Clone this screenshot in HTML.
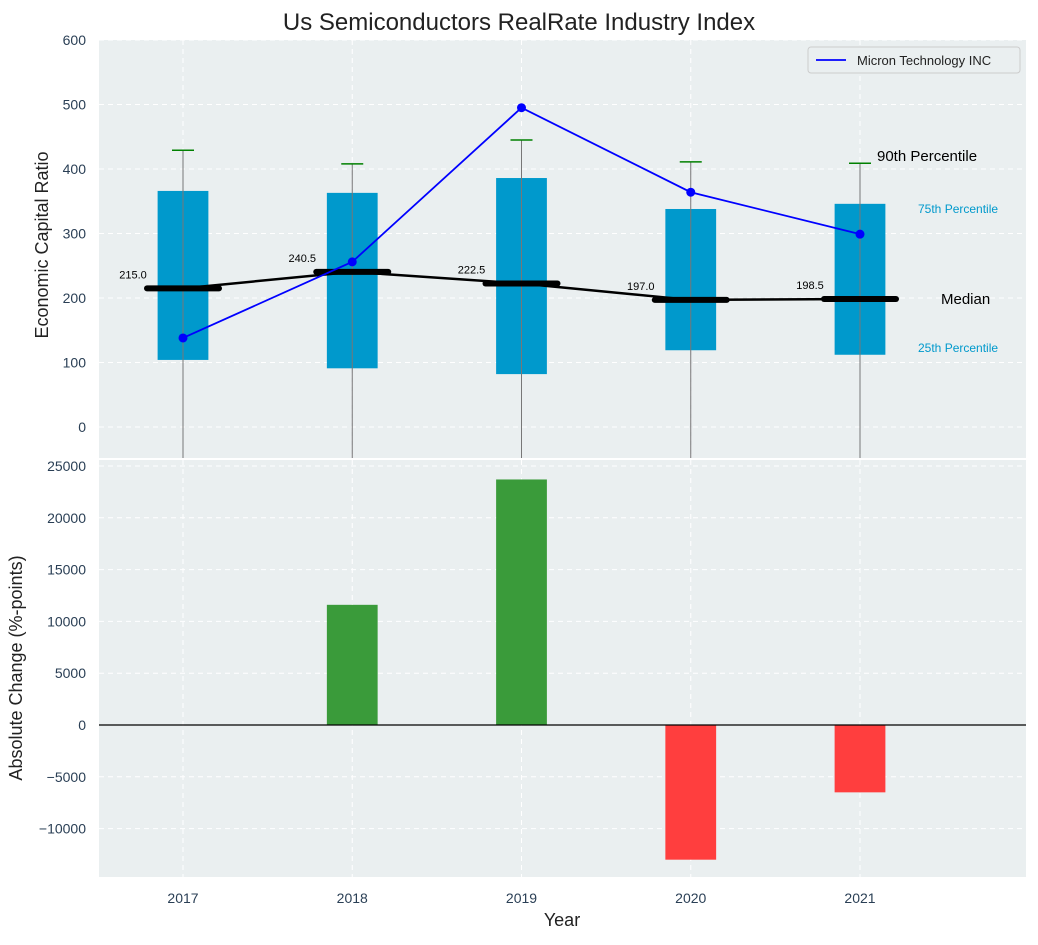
<!DOCTYPE html>
<html><head><meta charset="utf-8"><style>
body{margin:0;background:#fff;font-family:"Liberation Sans",sans-serif}
</style></head><body>
<svg id="c" width="1038" height="940" xmlns="http://www.w3.org/2000/svg" font-family="Liberation Sans, sans-serif"></svg>
<script>
const years=[2017,2018,2019,2020,2021];
const q1=[104,91,82,119,112];
const q3=[366,363,386,338,346];
const p90=[429,408,445,411,409];
const p10=[-100,-100,-100,-100,-100];
const medians=[215.0,240.5,222.5,197.0,198.5];
const micron=[138,256,495,364,299];
const changes=[0,11600,23700,-13000,-6500];
const topTicks=[0,100,200,300,400,500,600];
const botTicks=[-10000,-5000,0,5000,10000,15000,20000,25000];
const NS='http://www.w3.org/2000/svg';
const svg=document.getElementById('c');
function el(t,a,p){const e=document.createElementNS(NS,t);for(const k in a)e.setAttribute(k,a[k]);(p||svg).appendChild(e);return e;}
const L=99,R=1026;
const x=v=>183+(v-2017)*169.25;
const yT=v=>427-v*0.645;
const yB=v=>725-v*0.01036;
const W=0.3*169.25;
let e=el('rect',{x:L,y:40,width:R-L,height:418,fill:'#eaeff0'});

e=el('rect',{x:L,y:460,width:R-L,height:417,fill:'#eaeff0'});

topTicks.forEach(v=>{const y=yT(v);
 el('line',{x1:L,x2:R,y1:y,y2:y,stroke:'#fff','stroke-dasharray':'5,4'});
 const t=el('text',{x:86,y:y+5,'text-anchor':'end','font-size':14,fill:'#2a3f55'});t.textContent=v;
 });
botTicks.forEach(v=>{const y=yB(v);
 el('line',{x1:L,x2:R,y1:y,y2:y,stroke:'#fff','stroke-dasharray':'5,4'});
 const t=el('text',{x:86,y:y+5,'text-anchor':'end','font-size':14,fill:'#2a3f55'});t.textContent=(v<0?'−'+(-v):v);
 });
years.forEach(yr=>{const X=x(yr);
 el('line',{x1:X,x2:X,y1:40,y2:458,stroke:'#fff','stroke-dasharray':'5,4'});
 el('line',{x1:X,x2:X,y1:460,y2:877,stroke:'#fff','stroke-dasharray':'5,4'});
 const t=el('text',{x:X,y:903,'text-anchor':'middle','font-size':14,fill:'#2a3f55'});t.textContent=yr;
 });
const cp=el('clipPath',{id:'tc'});el('rect',{x:L,y:40,width:R-L,height:418},cp);
const g=el('g',{'clip-path':'url(#tc)'});
years.forEach((yr,i)=>{const X=x(yr);
 let b=el('rect',{x:X-W/2,y:yT(q3[i]),width:W,height:yT(q1[i])-yT(q3[i]),fill:'#0099cc'},g);
 
 let l=el('line',{x1:X,x2:X,y1:yT(p90[i]),y2:yT(p10[i]),stroke:'#777','stroke-width':1},g);
 
 l=el('line',{x1:X-11,x2:X+11,y1:yT(p90[i]),y2:yT(p90[i]),stroke:'green','stroke-width':1.5},g);
 
});
let pts=years.map((yr,i)=>x(yr)+','+yT(medians[i])).join(' ');
e=el('polyline',{points:pts,fill:'none',stroke:'#000','stroke-width':2.5},g);

years.forEach((yr,i)=>{const X=x(yr);
 let l=el('line',{x1:X-36,x2:X+36,y1:yT(medians[i]),y2:yT(medians[i]),stroke:'#000','stroke-width':6,'stroke-linecap':'round'},g);
 
 const t=el('text',{x:X-50,y:yT(medians[i])-10,'text-anchor':'middle','font-size':11,fill:'#000'},g);t.textContent=medians[i].toFixed(1);
 });
pts=years.map((yr,i)=>x(yr)+','+yT(micron[i])).join(' ');
e=el('polyline',{points:pts,fill:'none',stroke:'blue','stroke-width':1.8},g);

years.forEach((yr,i)=>{const c=el('circle',{cx:x(yr),cy:yT(micron[i]),r:4.5,fill:'blue'},g);
 });
[['90th Percentile',877,161,15,'#000'],['75th Percentile',918,213,12,'#0099cc'],['Median',941,304,15,'#000'],['25th Percentile',918,352,12,'#0099cc']].forEach(a=>{
 const t=el('text',{x:a[1],y:a[2],'font-size':a[3],fill:a[4]});t.textContent=a[0];
 });
e=el('rect',{x:808,y:47,width:212,height:26,fill:'#eaeff0',stroke:'#ccc',rx:3});

el('line',{x1:816,x2:846,y1:60,y2:60,stroke:'blue','stroke-width':1.8});
e=el('text',{x:857,y:65,'font-size':13,fill:'#222'});e.textContent='Micron Technology INC';

years.forEach((yr,i)=>{const X=x(yr),v=changes[i];
 const y0=yB(Math.max(v,0)),h=Math.abs(yB(v)-yB(0));
 const b=el('rect',{x:X-W/2,y:y0,width:W,height:h,fill:v>=0?'#3a9b3a':'#ff3e3e'});
 });
el('line',{x1:L,x2:R,y1:yB(0),y2:yB(0),stroke:'#000','stroke-width':1.2});
e=el('text',{x:519,y:30,'text-anchor':'middle','font-size':24,fill:'#222'});e.textContent='Us Semiconductors RealRate Industry Index';

e=el('text',{x:48,y:245,'text-anchor':'middle','font-size':18,fill:'#222',transform:'rotate(-90 48 245)'});e.textContent='Economic Capital Ratio';

e=el('text',{x:22,y:668,'text-anchor':'middle','font-size':18,fill:'#222',transform:'rotate(-90 22 668)'});e.textContent='Absolute Change (%-points)';

e=el('text',{x:562,y:926,'text-anchor':'middle','font-size':18,fill:'#222'});e.textContent='Year';

</script>
</body></html>
